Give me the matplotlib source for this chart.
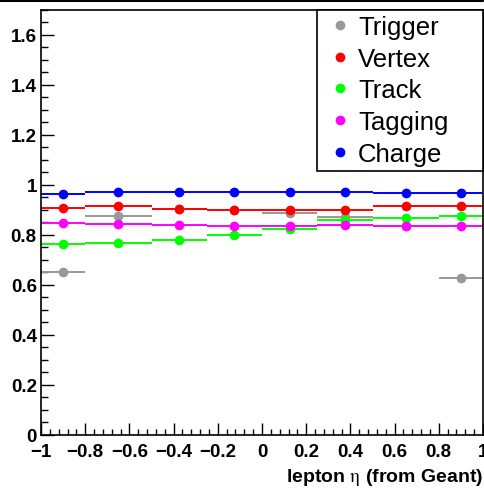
import matplotlib
matplotlib.use("Agg")
import matplotlib.pyplot as plt
from matplotlib.lines import Line2D
from matplotlib.ticker import MultipleLocator, FuncFormatter
import numpy as np

plt.rcParams["font.family"] = ["Liberation Sans", "DejaVu Sans"]
plt.rcParams["mathtext.fontset"] = "stix"

# Variable-width eta bins
bin_edges = [-1.0, -0.8, -0.5, -0.25, 0.0, 0.25, 0.5, 0.8, 1.0]

# Efficiencies per bin for each step
series_names = ["Trigger", "Vertex", "Track", "Tagging", "Charge"]
trigger = [0.650, 0.877, 0.903, 0.899, 0.888, 0.870, 0.837, 0.627]
vertex = [0.908, 0.916, 0.904, 0.899, 0.901, 0.899, 0.916, 0.917]
track = [0.763, 0.769, 0.781, 0.798, 0.824, 0.861, 0.869, 0.876]
tagging = [0.849, 0.845, 0.841, 0.836, 0.836, 0.839, 0.837, 0.835]
charge = [0.964, 0.971, 0.971, 0.972, 0.973, 0.971, 0.968, 0.967]
series_colors = ["#999999", "#ff0000", "#00ff00", "#ff00ff", "#0000ff"]

x_label = r"lepton $\mathrm{\eta}$ (from Geant)"

fig = plt.figure(figsize=(4.85, 4.89), dpi=100)
ax = fig.add_axes([41 / 485, 1 - 436 / 489, 442 / 485, 425.3 / 489])

edges = np.array(bin_edges)
centers = 0.5 * (edges[:-1] + edges[1:])
half_w = 0.5 * (edges[1:] - edges[:-1])

for vals, col in zip([trigger, vertex, track, tagging, charge], series_colors):
    ax.errorbar(centers, vals, xerr=half_w, fmt="o", color=col, ecolor=col,
                elinewidth=1.4, markersize=7, capsize=0, markeredgewidth=0)

ax.set_xlim(-1, 1)
ax.set_ylim(0, 1.7)

ax.xaxis.set_major_locator(MultipleLocator(0.2))
ax.xaxis.set_minor_locator(MultipleLocator(0.04))
ax.yaxis.set_major_locator(MultipleLocator(0.2))
ax.yaxis.set_minor_locator(MultipleLocator(0.05))

fmt = FuncFormatter(lambda v, p: ("%g" % round(v, 3)).replace("-", "\u2212"))
ax.xaxis.set_major_formatter(fmt)
ax.yaxis.set_major_formatter(fmt)

ax.tick_params(which="both", direction="in", top=False, right=False,
               width=1.0, color="black")
ax.tick_params(axis="x", which="major", length=9, pad=6)
ax.tick_params(axis="x", which="minor", length=4.5)
ax.tick_params(axis="y", which="major", length=9, pad=3)
ax.tick_params(axis="y", which="minor", length=5)
for lab in ax.get_xticklabels() + ax.get_yticklabels():
    lab.set_fontweight("bold")
    lab.set_fontsize(13.5)

for sp in ax.spines.values():
    sp.set_linewidth(1.2)

ax.set_xlabel(x_label, loc="right", fontsize=14, fontweight="bold", labelpad=4)

handles = [Line2D([], [], marker="o", ls="none", color=c, markersize=7,
                  markeredgewidth=0) for c in series_colors]
leg = ax.legend(handles, series_names, loc="upper left", mode="expand",
                bbox_to_anchor=(0.6244, 0.0, 0.3756, 1.0), borderaxespad=0,
                fontsize=18.5, labelspacing=0.3, borderpad=0.2,
                handlelength=1.4, handletextpad=0.0, fancybox=False,
                framealpha=1, edgecolor="black")
leg.get_frame().set_linewidth(1.2)

# Edge of the canvas frame above the pad
fig.add_artist(Line2D([0, 483 / 485, 483 / 485], [1 - 2 / 489, 1 - 2 / 489, 1.0],
                      transform=fig.transFigure, color="black", lw=1.5))

fig.savefig("out.png", dpi=100)
